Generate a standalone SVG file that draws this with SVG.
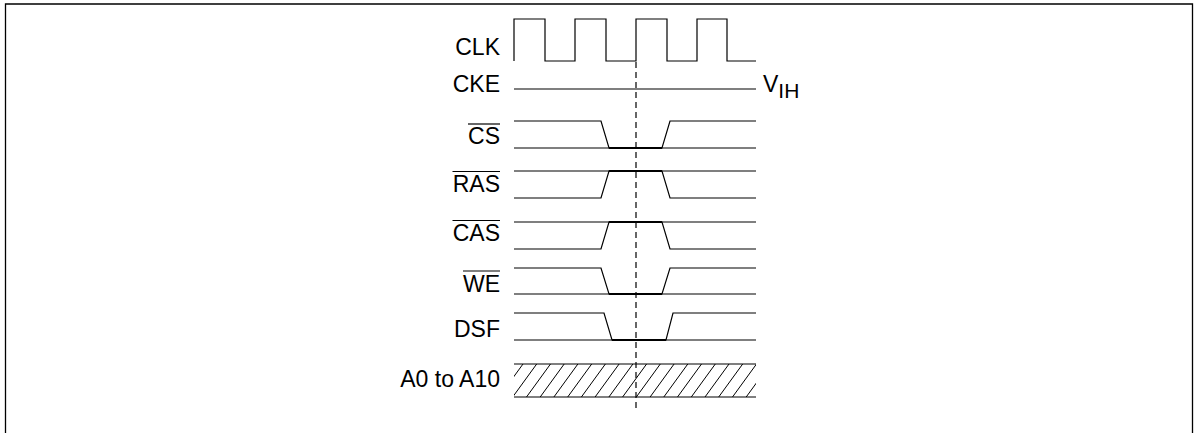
<svg xmlns="http://www.w3.org/2000/svg" width="1199" height="433" viewBox="0 0 1199 433">
<style>
.w{fill:none;stroke:#000;stroke-width:1.2;stroke-linejoin:miter}
.b{fill:none;stroke:#000;stroke-width:2}
.lbl{font-family:"Liberation Sans",Arial,sans-serif;font-size:23px;fill:#000;text-anchor:end}
.ol{stroke:#000;stroke-width:1.2}
.h{fill:none;stroke:#000;stroke-width:1}
</style>
<defs>
<clipPath id="hc"><rect x="514" y="364" width="242" height="33"/></clipPath>
</defs>
<rect width="1199" height="433" fill="#fff"/>
<path d="M5.5,433 V4 H1192.5 V433" fill="none" stroke="#000" stroke-width="1.3"/>
<g id="clk">
<text class="lbl" x="500" y="55">CLK</text>
<path class="w" d="M514,61 V19 H545 V61 H575 V19 H606 V61 H636 V19 H667 V61 H697 V19 H727 V61 H756"/>
</g>
<g id="cke">
<text class="lbl" x="500" y="92">CKE</text>
<path class="w" d="M514,89 H756"/>
<text x="763" y="92" font-family="Liberation Sans,Arial,sans-serif" font-size="23">V<tspan font-size="21" dy="6">IH</tspan></text>
</g>
<g id="cs">
<text class="lbl" x="500" y="144">CS</text>
<line class="ol" x1="468" y1="124" x2="500" y2="124"/>
<path class="w" d="M514,148 H756"/>
<path class="w" d="M514,121 H601 L609,148 H662 L670,121 H756"/>
<path class="b" d="M609,148 H662"/>
</g>
<g id="ras">
<text class="lbl" x="500" y="192">RAS</text>
<line class="ol" x1="452.5" y1="171.5" x2="500" y2="171.5"/>
<path class="w" d="M514,171 H756"/>
<path class="w" d="M514,198 H601 L609,171 H662 L670,198 H756"/>
<path class="b" d="M609,171 H662"/>
</g>
<g id="cas">
<text class="lbl" x="500" y="241">CAS</text>
<line class="ol" x1="452.5" y1="220.5" x2="500" y2="220.5"/>
<path class="w" d="M514,222 H756"/>
<path class="w" d="M514,249 H601 L609,222 H662 L670,249 H756"/>
<path class="b" d="M609,222 H662"/>
</g>
<g id="we">
<text class="lbl" x="500" y="292">WE</text>
<line class="ol" x1="463" y1="271" x2="500" y2="271"/>
<path class="w" d="M514,294 H756"/>
<path class="w" d="M514,268 H601 L609,294 H662 L670,268 H756"/>
<path class="b" d="M609,294 H662"/>
</g>
<g id="dsf">
<text class="lbl" x="500" y="337">DSF</text>
<path class="w" d="M514,340 H756"/>
<path class="w" d="M514,313 H604 L612,340 H666 L673,313 H756"/>
<path class="b" d="M612,340 H666"/>
</g>
<g id="addr">
<text class="lbl" x="500" y="387">A0 to A10</text>
<path class="w" d="M514,364 H756 M514,397 H756"/>
<path class="h" clip-path="url(#hc)" d="M485.3,397 L509.3,364 M499,397 L523,364 M512.7,397 L536.7,364 M526.5,397 L550.5,364 M540.2,397 L564.2,364 M553.9,397 L577.9,364 M567.7,397 L591.7,364 M581.4,397 L605.4,364 M595.1,397 L619.1,364 M608.9,397 L632.9,364 M622.6,397 L646.6,364 M636.3,397 L660.3,364 M650.1,397 L674.1,364 M663.8,397 L687.8,364 M677.5,397 L701.5,364 M691.3,397 L715.3,364 M705,397 L729,364 M718.7,397 L742.7,364 M732.5,397 L756.5,364 M746.2,397 L770.2,364"/>
</g>
<g id="connectors">
<line x1="636" y1="62" x2="636" y2="412" stroke="#000" stroke-width="1.2" stroke-dasharray="6 4"/>
</g>
</svg>
